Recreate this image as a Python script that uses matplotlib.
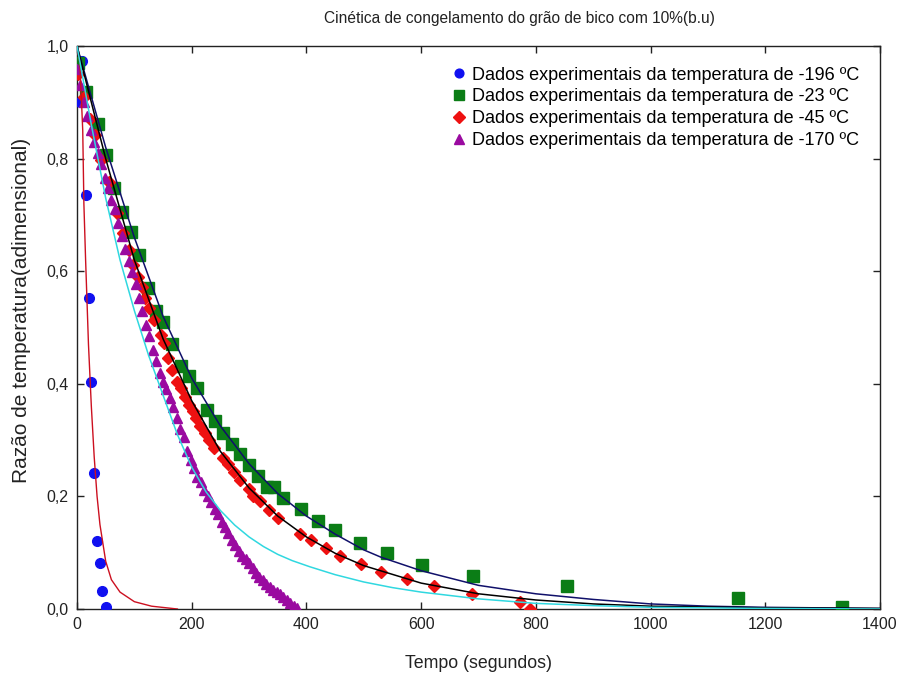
import matplotlib
matplotlib.use("Agg")
import matplotlib.pyplot as plt
from matplotlib.ticker import FuncFormatter, MultipleLocator

plt.rcParams['font.family'] = ['Liberation Sans', 'DejaVu Sans']

# ---- data ----
t_196 = [5, 9, 16, 21, 24, 30, 34, 40, 44, 50]
y_196 = [0.90, 0.973, 0.735, 0.552, 0.403, 0.242, 0.121, 0.082, 0.032, 0.004]

t_23 = [2, 16, 36, 50, 64, 78, 94, 108, 124, 137, 150, 166, 181, 195, 210, 226, 241,
        255, 270, 285, 300, 315, 331, 343, 360, 390, 421, 450, 493, 540, 601, 690,
        854, 1153, 1334]
y_23 = [0.97, 0.918, 0.862, 0.806, 0.748, 0.706, 0.669, 0.629, 0.570, 0.529, 0.510,
        0.471, 0.432, 0.413, 0.393, 0.353, 0.334, 0.313, 0.293, 0.275, 0.256, 0.236,
        0.216, 0.216, 0.197, 0.177, 0.157, 0.140, 0.117, 0.099, 0.078, 0.058,
        0.040, 0.020, 0.004]

t_45 = [2, 12, 22, 31, 42, 55, 69, 80, 90, 98, 106, 113, 119, 126, 135, 146, 152,
        159, 166, 174, 181, 188, 196, 202, 208, 214, 223, 230, 238, 254, 264, 273,
        284, 300, 306, 319, 334, 350, 389, 408, 434, 458, 495, 530, 575, 623, 689,
        773, 790]
y_45 = [0.95, 0.91, 0.87, 0.842, 0.797, 0.759, 0.703, 0.667, 0.638, 0.611, 0.590,
        0.572, 0.552, 0.534, 0.513, 0.487, 0.472, 0.445, 0.425, 0.404, 0.392, 0.377,
        0.362, 0.351, 0.339, 0.325, 0.312, 0.300, 0.286, 0.269, 0.258, 0.244,
        0.229, 0.214, 0.201, 0.192, 0.176, 0.161, 0.133, 0.123, 0.108, 0.094,
        0.080, 0.066, 0.054, 0.041, 0.027, 0.013, 0.0]

t_170 = [0, 6, 12, 18, 24, 30, 36, 42, 48, 54, 60, 66, 72, 78, 84, 90, 96, 102, 108,
         114, 120, 126, 132, 138, 144, 150, 156, 162, 168, 174, 180, 186, 192, 198,
         204, 210, 216, 222, 228, 234, 240, 246, 252, 258, 264, 270, 276, 282, 288,
         294, 300, 306, 312, 318, 324, 330, 336, 342, 348, 354, 360, 366, 372, 378, 384]
y_170 = [0.96, 0.93, 0.90, 0.875, 0.85, 0.83, 0.81, 0.79, 0.765, 0.748, 0.727, 0.71,
         0.685, 0.662, 0.64, 0.618, 0.598, 0.578, 0.552, 0.53, 0.505, 0.485, 0.46,
         0.44, 0.42, 0.403, 0.39, 0.375, 0.358, 0.34, 0.32, 0.305, 0.28, 0.265,
         0.25, 0.235, 0.225, 0.212, 0.20, 0.19, 0.177, 0.168, 0.155, 0.145, 0.135,
         0.122, 0.113, 0.103, 0.095, 0.088, 0.082, 0.072, 0.064, 0.057, 0.052,
         0.045, 0.039, 0.034, 0.030, 0.026, 0.021, 0.016, 0.011, 0.006, 0.002]

# fitted model curves
fit196_t = [0, 5, 10, 12, 15, 20, 25, 30, 35, 40, 50, 60, 75, 100, 130, 175]
fit196_y = [1.0, 0.97, 0.85, 0.72, 0.62, 0.47, 0.36, 0.27, 0.20, 0.15, 0.085, 0.052,
            0.030, 0.013, 0.005, 0.0]

fit23_t = [0, 50, 100, 150, 200, 250, 300, 350, 400, 450, 500, 530, 600, 700, 800,
           900, 1000, 1100, 1200, 1400]
fit23_y = [1.0, 0.82, 0.66, 0.52, 0.41, 0.325, 0.258, 0.205, 0.165, 0.133, 0.105,
           0.092, 0.068, 0.042, 0.027, 0.017, 0.009, 0.005, 0.003, 0.001]

fit45_t = [0, 50, 100, 150, 200, 250, 300, 350, 400, 450, 500, 600, 700, 800, 900,
           1000, 1200, 1400]
fit45_y = [1.0, 0.80, 0.62, 0.48, 0.37, 0.28, 0.215, 0.165, 0.128, 0.099, 0.077,
           0.046, 0.027, 0.016, 0.009, 0.005, 0.002, 0.001]

fit170_t = [0, 25, 50, 75, 100, 125, 150, 175, 200, 225, 250, 275, 300, 325, 350,
            375, 406, 450, 500, 550, 600, 700, 800, 900, 1000, 1200, 1400]
fit170_y = [1.0, 0.86, 0.73, 0.62, 0.53, 0.45, 0.38, 0.31, 0.252, 0.208, 0.175,
            0.149, 0.128, 0.111, 0.097, 0.086, 0.075, 0.061, 0.048, 0.038, 0.030,
            0.018, 0.010, 0.006, 0.003, 0.001, 0.0]

labels = ["Dados experimentais da temperatura de -196 ºC",
          "Dados experimentais da temperatura de -23 ºC",
          "Dados experimentais da temperatura de -45 ºC",
          "Dados experimentais da temperatura de -170 ºC"]

# ---- figure ----
fig = plt.figure(figsize=(9.02, 6.73), dpi=100)
ax = fig.add_axes([77/902, 1-609/673, (880-77)/902, (609-46)/673])

c_blue = '#1010f0'
c_green = '#0b7d16'
c_red = '#ee1111'
c_purple = '#9a0aa0'

h1, = ax.plot(t_196, y_196, 'o', color=c_blue, ms=7, mec=c_blue, zorder=3)
h2, = ax.plot(t_23, y_23, 's', color=c_green, ms=8.5, mec=c_green, zorder=3)
h3, = ax.plot(t_45, y_45, 'D', color=c_red, ms=6.3, mec=c_red, zorder=3)
h4, = ax.plot(t_170, y_170, '^', color=c_purple, ms=7.5, mec=c_purple, zorder=3)

ax.plot(fit196_t, fit196_y, '-', color='#cc1020', lw=1.0, zorder=4)
ax.plot(fit23_t, fit23_y, '-', color='#10106a', lw=1.1, zorder=4)
ax.plot(fit45_t, fit45_y, '-', color='#000000', lw=1.1, zorder=4)
ax.plot(fit170_t, fit170_y, '-', color='#30d8e0', lw=1.1, zorder=4)

ax.set_xlim(0, 1400)
ax.set_ylim(0, 1.0)
ax.xaxis.set_major_locator(MultipleLocator(200))
ax.yaxis.set_major_locator(MultipleLocator(0.2))
ax.yaxis.set_major_formatter(FuncFormatter(lambda v, p: f"{v:.1f}".replace('.', ',')))
ax.xaxis.set_major_formatter(FuncFormatter(lambda v, p: f"{v:.0f}"))
ax.tick_params(direction='in', length=5, width=1, top=True, right=True,
               labelsize=11.5, colors='#222222', pad=6)
for s in ax.spines.values():
    s.set_linewidth(1.0)
    s.set_color('#222222')

ax.set_xlabel("Tempo (segundos)", fontsize=12.8, color='#222222', labelpad=16)
ax.set_ylabel("Razão de temperatura(adimensional)", fontsize=15, color='#222222')
ax.yaxis.set_label_coords(-46/803, (609-310)/563)
fig.text(519.5/902, 1-18/673, "Cinética de congelamento do grão de bico com 10%(b.u)",
         fontsize=11.2, color='#222222', ha='center', va='center')

ax.legend([h1, h2, h3, h4], labels, loc='upper right', frameon=False, fontsize=13,
          handletextpad=0.2, handlelength=1.0, labelspacing=0.26,
          borderaxespad=0.75, markerscale=0.9)

fig.savefig("out.png", dpi=100)
